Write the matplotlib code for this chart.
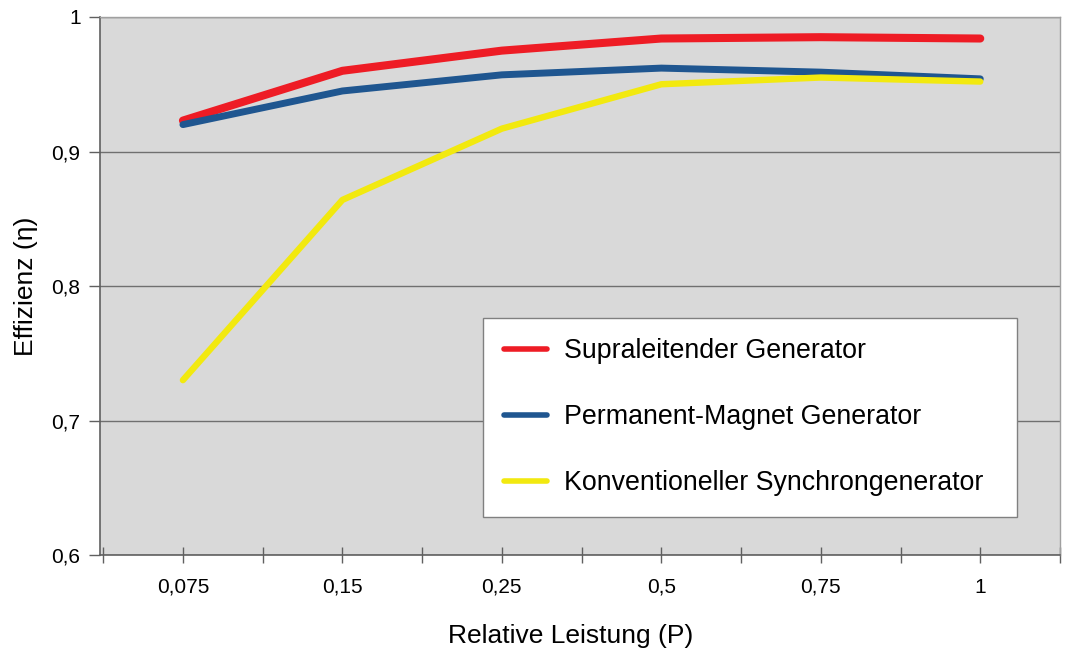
import matplotlib
matplotlib.use("Agg")
import matplotlib.pyplot as plt
from matplotlib.ticker import FixedLocator, FuncFormatter

plt.rcParams['font.family'] = ['Liberation Sans', 'DejaVu Sans']

categories = ["0,075", "0,15", "0,25", "0,5", "0,75", "1"]
supra = [0.923, 0.960, 0.975, 0.984, 0.985, 0.984]
perm = [0.920, 0.945, 0.957, 0.962, 0.959, 0.954]
konv = [0.730, 0.864, 0.917, 0.950, 0.955, 0.952]
labels = ["Supraleitender Generator", "Permanent-Magnet Generator",
          "Konventioneller Synchrongenerator"]
colors = ["#ee1c25", "#1f5690", "#f2e90f"]
yticks = [0.6, 0.7, 0.8, 0.9, 1.0]

fig = plt.figure(figsize=(10.8, 6.59), dpi=100)
ax = fig.add_axes([100/1080, 1-555/659, 960/1080, 538/659])
ax.set_facecolor("#d9d9d9")

x = list(range(len(categories)))
for vals, lab, col, lw in zip([supra, perm, konv], labels, colors, [5.8, 5.0, 4.6]):
    ax.plot(x, vals, color=col, lw=lw, label=lab, solid_capstyle='round',
            solid_joinstyle='round')

ax.set_xlim(-0.52, len(categories) - 0.5)
ax.set_ylim(0.6, 1.0)
ax.set_xticks(x)
ax.set_xticklabels(categories)
ax.xaxis.set_minor_locator(FixedLocator([i + 0.5 for i in range(-1, len(categories))]))
ax.tick_params(axis='x', which='both', direction='inout', length=11, width=1,
               color='#606060', labelsize=15, pad=11)
ax.set_yticks(yticks)
ax.yaxis.set_major_formatter(FuncFormatter(
    lambda v, p: ("%g" % v).replace(".", ",")))
ax.tick_params(axis='y', direction='out', length=8, width=1, color='#606060',
               labelsize=15, pad=6)
ax.grid(axis='y', color='#707070', lw=1)
ax.set_axisbelow(True)
for s in ['left', 'bottom']:
    ax.spines[s].set_color('#606060')
    ax.spines[s].set_linewidth(1.2)
for s in ['top', 'right']:
    ax.spines[s].set_color('#a0a0a0')
    ax.spines[s].set_linewidth(1.0)

ax.set_xlabel("Relative Leistung (P)", fontsize=19)
ax.xaxis.set_label_coords(0.49, -0.15, transform=ax.transAxes)
ax.xaxis.label.set_va('center')
ax.set_ylabel("Effizienz (η)", fontsize=19, labelpad=10)

leg = ax.legend(loc='lower left', bbox_to_anchor=(0.399, 0.0706, 0.556, 0.372),
                mode='expand', fontsize=19.3, frameon=True, fancybox=False,
                edgecolor='#808080', framealpha=1, labelspacing=1.485,
                handlelength=1.6, handletextpad=0.64, borderpad=0.78,
                borderaxespad=0)
leg.get_frame().set_linewidth(1)
for h in leg.get_lines():
    h.set_linewidth(4)
    h.set_solid_capstyle('round')

fig.savefig("out.png", dpi=100)
